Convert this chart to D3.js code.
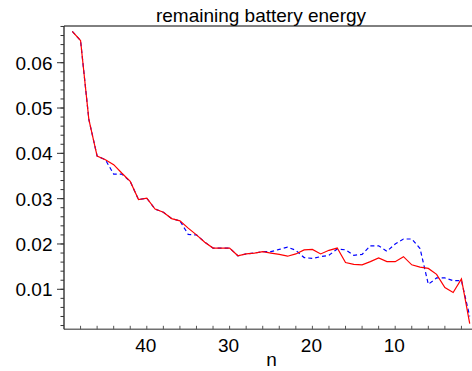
<!DOCTYPE html>
<html>
<head>
<meta charset="utf-8">
<script src="https://cdn.jsdelivr.net/npm/d3@7"></script>
<style>
  html, body { margin: 0; padding: 0; background: #fff; overflow: hidden; }
  svg { display: block; font-family: "Liberation Sans", Arial, sans-serif; }
</style>
</head>
<body>
<svg id="chart" width="472" height="371"></svg>
<script>
const title = "remaining battery energy";
const xLabel = "n";
const nValues = [49,48,47,46,45,44,43,42,41,40,39,38,37,36,35,34,33,32,31,30,29,28,27,26,25,24,23,22,21,20,19,18,17,16,15,14,13,12,11,10,9,8,7,6,5,4,3,2,1];
const redValues = [0.0669,0.0649,0.0475,0.0394,0.0386,0.0375,0.0356,0.0338,0.0298,0.0301,0.0277,0.0270,0.0256,0.0251,0.0235,0.0220,0.0204,0.0191,0.0191,0.0191,0.0174,0.0178,0.0180,0.0183,0.0180,0.0177,0.0173,0.0178,0.0187,0.0188,0.0178,0.0186,0.0191,0.0159,0.0155,0.0154,0.0161,0.0169,0.0161,0.0161,0.0172,0.0154,0.0149,0.0146,0.0133,0.0104,0.0093,0.0123,0.0024];
const blueValues = [0.0669,0.0649,0.0475,0.0394,0.0386,0.0354,0.0354,0.0338,0.0298,0.0301,0.0277,0.0270,0.0256,0.0251,0.0221,0.0220,0.0204,0.0191,0.0191,0.0191,0.0174,0.0178,0.0180,0.0183,0.0183,0.0188,0.0193,0.0186,0.0170,0.0168,0.0172,0.0175,0.0189,0.0187,0.0175,0.0177,0.0196,0.0196,0.0184,0.0200,0.0211,0.0211,0.0190,0.0111,0.0125,0.0125,0.0119,0.0119,0.0040];
const xMajorTicks = [40,30,20,10];
const yMajorTicks = [0.01,0.02,0.03,0.04,0.05,0.06];
const yTickLabels = ["0.01","0.02","0.03","0.04","0.05","0.06"];

const svg = d3.select("#chart");
const mLeft = 64, mRight = 478, mTop = 26, mBottom = 329.3;

const x = d3.scaleLinear().domain([50, 0]).range([mLeft, mRight]);
const y = d3.scaleLinear().domain([0.00117, 0.0681]).range([mBottom, mTop]);

// top border
svg.append("line").attr("x1", mLeft).attr("x2", mRight).attr("y1", mTop).attr("y2", mTop)
  .attr("stroke", "#000").attr("stroke-width", 1);

// bottom axis (ticks pointing up, inside)
const xMinor = d3.range(48, 0, -2);
const gx = svg.append("g").attr("transform", `translate(0,${mBottom})`);
gx.append("line").attr("x1", mLeft).attr("x2", mRight).attr("y1", 0).attr("y2", 0)
  .attr("stroke", "#707070").attr("stroke-width", 1.6);
gx.selectAll("line.tick").data(xMinor).enter().append("line")
  .attr("class", "tick")
  .attr("x1", d => x(d)).attr("x2", d => x(d))
  .attr("y1", 0).attr("y2", -3.5)
  .attr("stroke", "#555").attr("stroke-width", 1);
gx.selectAll("text").data(xMajorTicks).enter().append("text")
  .attr("x", d => x(d) - 1).attr("y", 22.5)
  .attr("text-anchor", "middle").attr("font-size", 19).attr("fill", "#000")
  .text(d => d);

svg.append("text").attr("x", 271.5).attr("y", 366)
  .attr("text-anchor", "middle").attr("font-size", 19).attr("fill", "#000")
  .text(xLabel);

// left axis
const yMinor = d3.range(1, 35).map(i => i * 0.002);
const gy = svg.append("g").attr("transform", `translate(${mLeft},0)`);
gy.append("line").attr("x1", 0).attr("x2", 0).attr("y1", mTop).attr("y2", mBottom)
  .attr("stroke", "#333").attr("stroke-width", 1.4);
gy.selectAll("line.minor").data(yMinor).enter().append("line")
  .attr("class", "minor")
  .attr("x1", 0).attr("x2", -3.5)
  .attr("y1", d => y(d)).attr("y2", d => y(d))
  .attr("stroke", "#333").attr("stroke-width", 1);
gy.selectAll("line.major").data(yMajorTicks).enter().append("line")
  .attr("class", "major")
  .attr("x1", 0).attr("x2", -7)
  .attr("y1", d => y(d)).attr("y2", d => y(d))
  .attr("stroke", "#333").attr("stroke-width", 1);
gy.selectAll("text").data(yMajorTicks).enter().append("text")
  .attr("x", -11.5).attr("y", d => y(d) + 7)
  .attr("text-anchor", "end").attr("font-size", 19).attr("fill", "#000")
  .text((d, i) => yTickLabels[i]);

// title
svg.append("text").attr("x", 261).attr("y", 21.5)
  .attr("text-anchor", "middle").attr("font-size", 19).attr("fill", "#000")
  .text(title);

// lines
const blueData = nValues.map((n, i) => [n, blueValues[i]]);
const redData = nValues.map((n, i) => [n, redValues[i]]);
const line = d3.line().x(d => x(d[0])).y(d => y(d[1]));

svg.append("path").datum(blueData).attr("d", line)
  .attr("fill", "none").attr("stroke", "#0000ff").attr("stroke-width", 1.2)
  .attr("stroke-dasharray", "4,3");
svg.append("path").datum(redData).attr("d", line)
  .attr("fill", "none").attr("stroke", "#ff0000").attr("stroke-width", 1.2);
</script>
</body>
</html>
